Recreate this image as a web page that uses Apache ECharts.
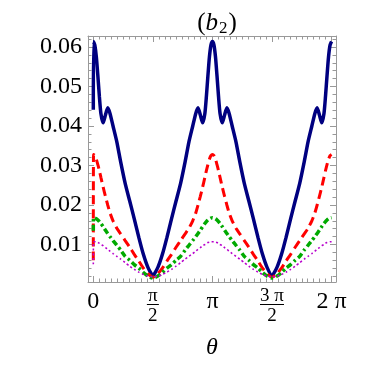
<!DOCTYPE html>
<html>
<head>
<meta charset="utf-8">
<title>(b2)</title>
<script src="https://cdn.jsdelivr.net/npm/echarts@6/dist/echarts.min.js"></script>
<style>
html, body { margin: 0; padding: 0; background: #fff; }
#chart { width: 373px; height: 365px; }
</style>
</head>
<body>
<div id="chart"></div>
<script>
// theta (rad)
var theta = [0, 0.006, 0.04, 0.08, 0.12, 0.16, 0.20, 0.26, 0.32, 0.38, 0.44, 0.52, 0.62, 0.72, 0.84, 0.96, 1.08, 1.20, 1.32, 1.44,
    1.571,
    1.702, 1.822, 1.942, 2.062, 2.182, 2.302, 2.422, 2.522, 2.622, 2.702, 2.762, 2.822, 2.882, 2.942, 2.982, 3.022, 3.062, 3.102,
    3.142,
    3.182, 3.222, 3.262, 3.302, 3.342, 3.402, 3.462, 3.522, 3.582, 3.662, 3.762, 3.862, 3.982, 4.102, 4.222, 4.342, 4.462, 4.582,
    4.712,
    4.843, 4.963, 5.083, 5.203, 5.323, 5.443, 5.563, 5.663, 5.763, 5.843, 5.903, 5.963, 6.023, 6.083, 6.123, 6.163, 6.203, 6.243,
    6.283];

// navy solid
var navyVals = [0.0441,
    0.0614, 0.0605, 0.0575, 0.0527, 0.0475, 0.0432, 0.0408, 0.0428, 0.0446, 0.0432, 0.0400, 0.0360, 0.0310, 0.0255, 0.0210, 0.0165, 0.0118, 0.0075, 0.0042,
    0.0021,
    0.0042, 0.0075, 0.0118, 0.0165, 0.0210, 0.0255, 0.0310, 0.0360, 0.0400, 0.0432, 0.0446, 0.0428, 0.0408, 0.0432, 0.0475, 0.0527, 0.0575, 0.0605,
    0.0614,
    0.0605, 0.0575, 0.0527, 0.0475, 0.0432, 0.0408, 0.0428, 0.0446, 0.0432, 0.0400, 0.0360, 0.0310, 0.0255, 0.0210, 0.0165, 0.0118, 0.0075, 0.0042,
    0.0021,
    0.0042, 0.0075, 0.0118, 0.0165, 0.0210, 0.0255, 0.0310, 0.0360, 0.0400, 0.0432, 0.0446, 0.0428, 0.0408, 0.0432, 0.0475, 0.0527, 0.0575, 0.0605,
    0.0614];

// red dashed
var redVals = [0.0060,
    0.0328, 0.0325, 0.0316, 0.0302, 0.0287, 0.0270, 0.0245, 0.0222, 0.0200, 0.0180, 0.0160, 0.0141, 0.0127, 0.0110, 0.0093, 0.0075, 0.0058, 0.0040, 0.0026,
    0.0017,
    0.0026, 0.0040, 0.0058, 0.0075, 0.0093, 0.0110, 0.0127, 0.0141, 0.0160, 0.0180, 0.0200, 0.0222, 0.0245, 0.0270, 0.0287, 0.0302, 0.0316, 0.0325,
    0.0328,
    0.0325, 0.0316, 0.0302, 0.0287, 0.0270, 0.0245, 0.0222, 0.0200, 0.0180, 0.0160, 0.0141, 0.0127, 0.0110, 0.0093, 0.0075, 0.0058, 0.0040, 0.0026,
    0.0017,
    0.0026, 0.0040, 0.0058, 0.0075, 0.0093, 0.0110, 0.0127, 0.0141, 0.0160, 0.0180, 0.0200, 0.0222, 0.0245, 0.0270, 0.0287, 0.0302, 0.0316, 0.0325,
    0.0328];

// green dot-dashed
var greenVals = [0.0135,
    0.0168, 0.0167, 0.0165, 0.0162, 0.0158, 0.0153, 0.0145, 0.0136, 0.0128, 0.0120, 0.0110, 0.0098, 0.0086, 0.0070, 0.0060, 0.0049, 0.0040, 0.0029, 0.0020,
    0.0015,
    0.0020, 0.0029, 0.0040, 0.0049, 0.0060, 0.0070, 0.0086, 0.0098, 0.0110, 0.0120, 0.0128, 0.0136, 0.0145, 0.0153, 0.0158, 0.0162, 0.0165, 0.0167,
    0.0168,
    0.0167, 0.0165, 0.0162, 0.0158, 0.0153, 0.0145, 0.0136, 0.0128, 0.0120, 0.0110, 0.0098, 0.0086, 0.0070, 0.0060, 0.0049, 0.0040, 0.0029, 0.0020,
    0.0015,
    0.0020, 0.0029, 0.0040, 0.0049, 0.0060, 0.0070, 0.0086, 0.0098, 0.0110, 0.0120, 0.0128, 0.0136, 0.0145, 0.0153, 0.0158, 0.0162, 0.0165, 0.0167,
    0.0168];

// magenta dotted
var magentaVals = [0.0050,
    0.0107, 0.0107, 0.0106, 0.0105, 0.0103, 0.0100, 0.0097, 0.0092, 0.0088, 0.0083, 0.0077, 0.0070, 0.0063, 0.0054, 0.0045, 0.0037, 0.0030, 0.0024, 0.0020,
    0.0018,
    0.0020, 0.0024, 0.0030, 0.0037, 0.0045, 0.0054, 0.0063, 0.0070, 0.0077, 0.0083, 0.0088, 0.0092, 0.0097, 0.0100, 0.0103, 0.0105, 0.0106, 0.0107,
    0.0107,
    0.0107, 0.0106, 0.0105, 0.0103, 0.0100, 0.0097, 0.0092, 0.0088, 0.0083, 0.0077, 0.0070, 0.0063, 0.0054, 0.0045, 0.0037, 0.0030, 0.0024, 0.0020,
    0.0018,
    0.0020, 0.0024, 0.0030, 0.0037, 0.0045, 0.0054, 0.0063, 0.0070, 0.0077, 0.0083, 0.0088, 0.0092, 0.0097, 0.0100, 0.0103, 0.0105, 0.0106, 0.0107,
    0.0107];

var xTickValues = [0, 1.5708, 3.1416, 4.7124, 6.2832];
var xTickLabels = ['0', 'π/2', 'π', '3 π/2', '2 π'];
var yTickValues = [0.01, 0.02, 0.03, 0.04, 0.05, 0.06];
var yTickLabels = ['0.01', '0.02', '0.03', '0.04', '0.05', '0.06'];

var X_MIN = -0.14, X_MAX = 6.40;
var Y_MIN = 0.0005, Y_MAX = 0.0628;
var frameColor = '#999999';
var serif = "'Liberation Serif', 'DejaVu Serif', serif";

// minor ticks: pi/20 on x, 0.002 on y
var xMinor = [];
for (var k = -2; k <= 42; k++) {
    var v = k * Math.PI / 20;
    if (k % 10 !== 0 && v > X_MIN && v < X_MAX) xMinor.push(v);
}
var yMinor = [];
for (var j = 1; j <= 31; j++) {
    var w = +(j * 0.002).toFixed(4);
    if (j % 5 !== 0 && w > Y_MIN && w < Y_MAX) yMinor.push(w);
}

function pairs(ys) {
    return theta.map(function (t, i) { return [t, ys[i]]; });
}

function xLabel(value) {
    var idx = 0;
    for (var i = 0; i < xTickValues.length; i++) {
        if (Math.abs(xTickValues[i] - value) < 1e-3) idx = i;
    }
    var s = xTickLabels[idx];
    if (s.indexOf('/') < 0) return '{m|' + s + '}';
    var p = s.split('/');
    var bar = p[0].length > 1 ? 'barL' : 'barS';
    return '{n|' + p[0] + '}\n{' + bar + '|}\n{d|' + p[1] + '}';
}

function yLabel(value) {
    for (var i = 0; i < yTickValues.length; i++) {
        if (Math.abs(yTickValues[i] - value) < 1e-6) return yTickLabels[i];
    }
    return '';
}

function axisX(pos, ticks, len, main) {
    return {
        type: 'value', min: X_MIN, max: X_MAX, position: pos,
        axisLine: { show: main, onZero: false, lineStyle: { color: frameColor, width: 1 } },
        axisTick: { show: true, inside: true, length: len, customValues: ticks, lineStyle: { color: frameColor, width: 1 } },
        axisLabel: { show: false },
        splitLine: { show: false }
    };
}

function axisY(pos, ticks, len, main) {
    return {
        type: 'value', min: Y_MIN, max: Y_MAX, position: pos,
        axisLine: { show: main, onZero: false, lineStyle: { color: frameColor, width: 1 } },
        axisTick: { show: true, inside: true, length: len, customValues: ticks, lineStyle: { color: frameColor, width: 1 } },
        axisLabel: { show: false },
        splitLine: { show: false }
    };
}

var xMain = axisX('bottom', xTickValues, 6, true);
xMain.axisLabel = {
    show: true, customValues: xTickValues, formatter: xLabel, margin: 8,
    color: '#000', fontFamily: serif,
    rich: {
        m: { fontSize: 24, lineHeight: 24, fontFamily: serif, color: '#000' },
        n: { fontSize: 19, lineHeight: 13, fontFamily: serif, color: '#000' },
        d: { fontSize: 19, lineHeight: 20, fontFamily: serif, color: '#000' },
        barS: { width: 12, height: 1, lineHeight: 3, backgroundColor: '#000' },
        barL: { width: 24, height: 1, lineHeight: 3, backgroundColor: '#000' }
    }
};
xMain.name = 'θ';
xMain.nameLocation = 'middle';
xMain.nameGap = 54;
xMain.nameTextStyle = { fontSize: 24, fontStyle: 'italic', fontFamily: serif, color: '#000' };

var yMain = axisY('left', yTickValues, 6, true);
yMain.axisLabel = {
    show: true, customValues: yTickValues, formatter: yLabel, margin: 6,
    fontSize: 24, fontFamily: serif, color: '#000'
};

var chart = echarts.init(document.getElementById('chart'));
chart.setOption({
    animation: false,
    backgroundColor: '#fff',
    title: {
        text: '{p|(}{b|b}{s|2}{p|)}',
        left: 212, top: 5, textAlign: 'center',
        textStyle: {
            fontWeight: 'normal',
            rich: {
                p: { fontSize: 25, fontFamily: serif, fontWeight: 'normal', color: '#000' },
                b: { fontSize: 25, fontFamily: serif, fontStyle: 'italic', fontWeight: 'normal', color: '#000' },
                s: { fontSize: 17, fontFamily: serif, fontWeight: 'normal', color: '#000', verticalAlign: 'bottom', padding: [10, 1, 0, 1] }
            }
        }
    },
    grid: { left: 88, right: 37, top: 36, bottom: 81, containLabel: false },
    xAxis: [
        xMain,
        axisX('bottom', xMinor, 3.5, false),
        axisX('top', xTickValues, 6, true),
        axisX('top', xMinor, 3.5, false)
    ],
    yAxis: [
        yMain,
        axisY('left', yMinor, 3.5, false),
        axisY('right', yTickValues, 6, true),
        axisY('right', yMinor, 3.5, false)
    ],
    series: [
        {
            name: 'navy', type: 'line', data: pairs(navyVals), showSymbol: false, symbol: 'none', smooth: 0.2,
            lineStyle: { color: '#000080', width: 3.5 }
        },
        {
            name: 'red', type: 'line', data: pairs(redVals), showSymbol: false, symbol: 'none', smooth: 0.2,
            lineStyle: { color: '#ff0000', width: 3, type: [9, 5] }
        },
        {
            name: 'green', type: 'line', data: pairs(greenVals), showSymbol: false, symbol: 'none', smooth: 0.2,
            lineStyle: { color: '#00aa00', width: 3.5, type: [6, 3, 2.5, 3] }
        },
        {
            name: 'magenta', type: 'line', data: pairs(magentaVals), showSymbol: false, symbol: 'none', smooth: 0.2,
            lineStyle: { color: '#b800cc', width: 1.6, type: [2, 2.5] }
        }
    ]
});
</script>
</body>
</html>
